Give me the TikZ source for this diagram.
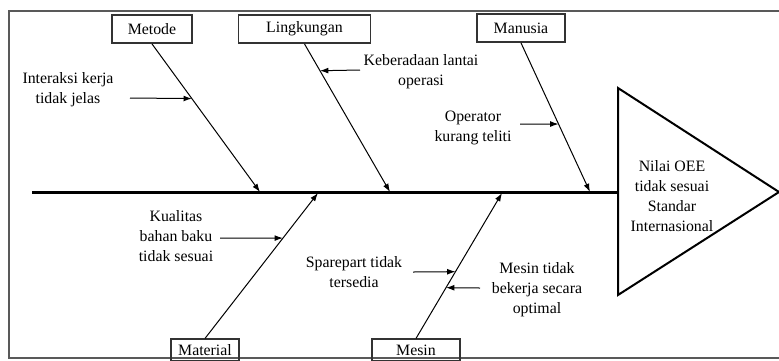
\documentclass[tikz,border=0pt]{standalone}
\usepackage{fontspec}
\setmainfont{Liberation Serif}
\usetikzlibrary{arrows.meta, calc, positioning}

\begin{document}
\begin{tikzpicture}[x=0.6pt, y=-0.6pt,
    every node/.style={font=\fontsize{9.5}{12}\selectfont},
    cat/.style={draw=black!80, line width=0.9pt, minimum height=17pt, inner sep=1pt},
    note/.style={align=center, inner sep=1pt},
    bone/.style={->, >={Latex[length=5pt, width=3.5pt]}, line width=0.6pt},
    sub/.style={->, >={Latex[length=5pt, width=3.5pt]}, line width=0.6pt},
]
    \useasboundingbox (0,0) rectangle (779,360);

    % frame round the diagram
    \draw[black!65, line width=1.2pt] (779,11) -- (9,11) -- (9,358) -- (779,358);

    % head: the effect
    \draw[line width=1.2pt] (618,88) -- (779,192) -- (618,295) -- cycle;
    \node[note] (effect) at (672,196) {Nilai OEE\\tidak sesuai\\Standar\\Internasional};

    % spine
    \coordinate (tail) at (32,192);
    \coordinate (head) at (618,192);
    \draw[line width=1.8pt] (tail) -- (head);

    % category boxes
    \node[cat, minimum width=48pt] (metode) at (152,29) {Metode};
    \node[cat, minimum width=79pt] (lingkungan) at (304.5,29) {Lingkungan};
    \node[cat, minimum width=53pt] (manusia) at (521,28) {Manusia};
    \node[cat, minimum width=41pt, minimum height=13pt] (material) at (205,350) {Material};
    \node[cat, minimum width=53pt, minimum height=13pt] (mesin) at (416,350) {Mesin};

    % where the bones meet the spine
    \coordinate (jMetode) at (260,192);
    \coordinate (jLingkungan) at (390,192);
    \coordinate (jManusia) at (590,192);
    \coordinate (jMaterial) at (318,193);
    \coordinate (jMesin) at (502,193);

    \draw[bone] (metode.south) -- (jMetode);
    \draw[bone] (lingkungan.south) -- (jLingkungan);
    \draw[bone] (manusia.south) -- (jManusia);
    \draw[bone] (material.north) -- (jMaterial);
    \draw[bone] (mesin.north) -- (jMesin);

    % causes
    \node[note] (interaksi) at (68,90) {Interaksi kerja\\tidak jelas};
    \node[note] (lantai) at (421,72) {Keberadaan lantai\\operasi};
    \node[note] (operator) at (473,128) {Operator\\kurang teliti};
    \node[note] (kualitas) at (176,236) {Kualitas\\bahan baku\\tidak sesuai};
    \node[note] (sparepart) at (354,272) {Sparepart tidak\\tersedia};
    \node[note] (optimal) at (537,290) {Mesin tidak\\bekerja secara\\optimal};

    % cause arrows onto the bones
    \coordinate (aInteraksi) at ($(metode.south)!0.369!(jMetode)$);
    \coordinate (aLantai) at ($(lingkungan.south)!0.181!(jLingkungan)$);
    \coordinate (aOperator) at ($(manusia.south)!0.544!(jManusia)$);
    \coordinate (aKualitas) at ($(material.north)!0.69!(jMaterial)$);
    \coordinate (aSparepart) at ($(mesin.north)!0.459!(jMesin)$);
    \coordinate (aOptimal) at ($(mesin.north)!0.349!(jMesin)$);

    \coordinate (bInteraksi) at (130,98);
    \coordinate (bLantai) at (360,70);
    \coordinate (bOperator) at (520,124);
    \coordinate (bKualitas) at (220,238);
    \coordinate (bSparepart) at (413,272);
    \coordinate (bOptimal) at (480,288);

    \draw[sub] (bInteraksi) -- (aInteraksi);
    \draw[sub] (bLantai) -- (aLantai);
    \draw[sub] (bOperator) -- (aOperator);
    \draw[sub] (bKualitas) -- (aKualitas);
    \draw[sub] (bSparepart) -- (aSparepart);
    \draw[sub] (bOptimal) -- (aOptimal);
\end{tikzpicture}
\end{document}
